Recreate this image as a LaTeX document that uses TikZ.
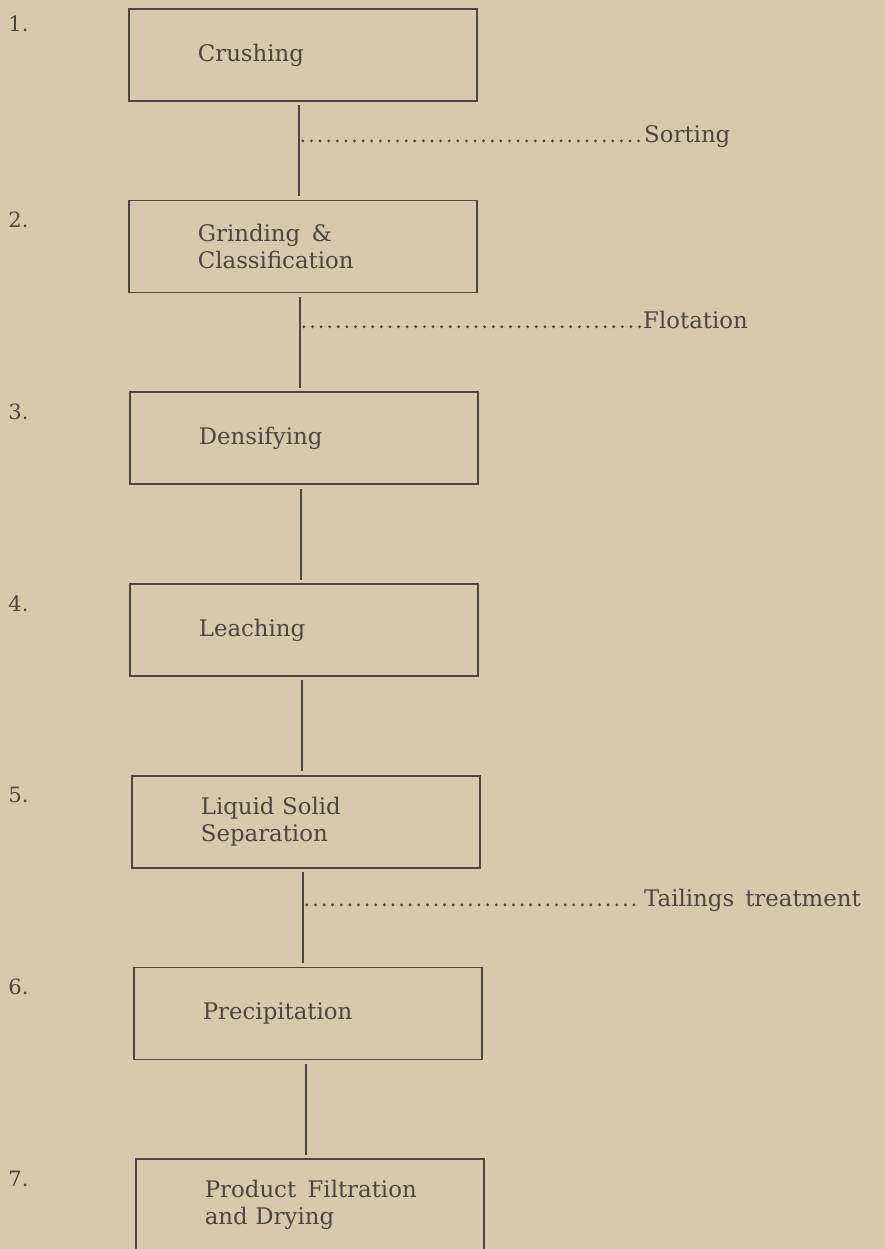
\documentclass[tikz,border=0pt]{standalone}
\usepackage{fontspec}
\setmainfont{DejaVu Serif}
\usetikzlibrary{positioning,calc}
\definecolor{paper}{RGB}{216,201,173}
\definecolor{ink}{RGB}{78,70,60}

\begin{document}
\begin{tikzpicture}[x=0.02cm,y=-0.02cm,node distance=1.96cm,
  stage/.style={draw=ink,line width=1pt,text=ink,minimum height=1.84cm,text width=4.2cm,
    inner xsep=1.38cm,align=left,font=\fontsize{13}{15.5}\selectfont},
  num/.style={text=ink,anchor=north west,inner sep=0pt,font=\fontsize{12}{14}\selectfont},
  link/.style={draw=ink,line width=1pt,shorten <=2pt,shorten >=2pt},
  leader/.style={draw=ink,line width=1.8pt,line cap=round,dash pattern=on 0pt off 4.9pt},
  side/.style={text=ink,anchor=base west,inner sep=0pt,font=\fontsize{13}{15.5}\selectfont}]
\useasboundingbox (0,0) rectangle (885,1249);
\fill [paper] (0,0) rectangle (885,1249);

% process steps
\node [stage,anchor=north west] (b1) at (128,8) {Crushing};
\node [stage,below=of b1] (b2) {Grinding~\,\&\\Classification};
\node [stage,below=of b2,xshift=0.02cm] (b3) {Densifying};
\node [stage,below=of b3] (b4) {Leaching};
\node [stage,below=of b4,xshift=0.04cm] (b5) {Liquid Solid\\Separation};
\node [stage,below=of b5,xshift=0.04cm] (b6) {Precipitation};
\node [stage,below=of b6,xshift=0.04cm] (b7) {Product~\,Filtration\\and Drying};

% step numbers
\node [num] at ($(b1.north west)+(-120,7)$) {1.};
\node [num] at ($(b2.north west)+(-120,12)$) {2.};
\node [num] at ($(b3.north west)+(-121,12)$) {3.};
\node [num] at ($(b4.north west)+(-121,12)$) {4.};
\node [num] at ($(b5.north west)+(-123,12)$) {5.};
\node [num] at ($(b6.north west)+(-125,12)$) {6.};
\node [num] at ($(b7.north west)+(-127,12)$) {7.};

% main line
\draw [link] ([xshift=-0.08cm]b1.south) coordinate (t1) -- (t1 |- b2.north);
\draw [link] ([xshift=-0.06cm]b2.south) coordinate (t2) -- (t2 |- b3.north);
\draw [link] ([xshift=-0.06cm]b3.south) coordinate (t3) -- (t3 |- b4.north);
\draw [link] ([xshift=-0.04cm]b4.south) coordinate (t4) -- (t4 |- b5.north);
\draw [link] ([xshift=-0.06cm]b5.south) coordinate (t5) -- (t5 |- b6.north);
\draw [link] ([xshift=-0.04cm]b6.south) coordinate (t6) -- (t6 |- b7.north);

% side streams
\coordinate (j1) at ($(t1)!0.4!(t1 |- b2.north)$);
\node [side] (sort) at ($(j1)+(345,2)$) {Sorting};
\draw [leader] ($(j1)+(4,0)$) -- ($(sort.base west)+(-2,-2)$);

\coordinate (j2) at ($(t2)!0.34!(t2 |- b3.north)$);
\node [side] (flot) at ($(j2)+(343,2)$) {Flotation};
\draw [leader] ($(j2)+(4,0)$) -- ($(flot.base west)+(-2,-2)$);

\coordinate (j5) at ($(t5)!0.37!(t5 |- b6.north)$);
\node [side] (tail) at ($(j5)+(341,2)$) {Tailings~\,treatment};
\draw [leader] ($(j5)+(4,0)$) -- ($(tail.base west)+(-2,-2)$);

\end{tikzpicture}
\end{document}
